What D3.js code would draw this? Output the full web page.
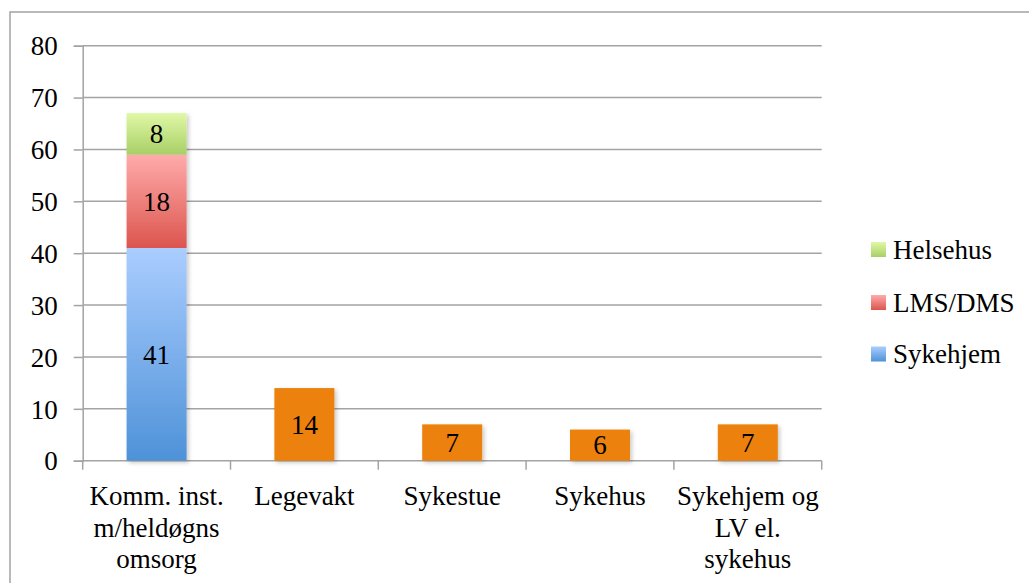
<!DOCTYPE html>
<html>
<head>
<meta charset="utf-8">
<script src="https://cdn.jsdelivr.net/npm/d3@7"></script>
<style>
  html, body { margin: 0; padding: 0; background: #fff; }
  svg { display: block; font-family: "Liberation Serif", serif; }
</style>
</head>
<body>
<svg id="chart" width="1029" height="583"></svg>
<script>
// Categories, shown as multi-line tick labels
const categories = ["komm", "legevakt", "sykestue", "sykehus", "sykehjemLv"];
const categoryLines = [
  ["Komm. inst.", "m/heldøgns", "omsorg"],
  ["Legevakt"],
  ["Sykestue"],
  ["Sykehus"],
  ["Sykehjem og", "LV el.", "sykehus"]
];

// Series values per category
const sykehjem = [41, 0, 0, 0, 0];
const lmsDms   = [18, 0, 0, 0, 0];
const helsehus = [8, 0, 0, 0, 0];
const annet    = [0, 14, 7, 6, 7];

const seriesKeys = ["sykehjem", "lmsDms", "helsehus", "annet"];
const seriesNames = { sykehjem: "Sykehjem", lmsDms: "LMS/DMS", helsehus: "Helsehus" };
const legendKeys = ["helsehus", "lmsDms", "sykehjem"];

const yTicks = [0, 10, 20, 30, 40, 50, 60, 70, 80];

const rows = categories.map((c, i) => ({
  cat: c,
  sykehjem: sykehjem[i],
  lmsDms: lmsDms[i],
  helsehus: helsehus[i],
  annet: annet[i]
}));

const svg = d3.select("#chart");
const fontFamily = "Liberation Serif";
const fontSize = 27;
const gridColor = "#a3a3a3";

// gradients and shadow
const defs = svg.append("defs");
const gradStops = {
  sykehjem: ["#aacdff", "#4e92d8"],
  lmsDms:   ["#ffabab", "#dc554d"],
  helsehus: ["#e0f8a6", "#a8cf66"]
};
Object.entries(gradStops).forEach(([k, [top, bottom]]) => {
  const g = defs.append("linearGradient")
    .attr("id", "grad-" + k).attr("x1", 0).attr("y1", 0).attr("x2", 0).attr("y2", 1);
  g.append("stop").attr("offset", "0%").attr("stop-color", top);
  g.append("stop").attr("offset", "100%").attr("stop-color", bottom);
});
const fill = k => k === "annet" ? "#ec8109" : `url(#grad-${k})`;

const shadow = defs.append("filter").attr("id", "shadow")
  .attr("x", "-20%").attr("y", "-20%").attr("width", "140%").attr("height", "140%");
shadow.append("feDropShadow").attr("dx", 2).attr("dy", 2)
  .attr("stdDeviation", 2).attr("flood-color", "#000").attr("flood-opacity", 0.22);

// outer frame
svg.append("rect")
  .attr("x", 10).attr("y", 12).attr("width", 1040).attr("height", 600)
  .attr("fill", "none").attr("stroke", gridColor).attr("stroke-width", 1.5);

const x = d3.scaleBand()
  .domain(categories)
  .range([82.7, 821.7])
  .paddingInner(0.594)
  .paddingOuter(0.297);

const y = d3.scaleLinear().domain([0, 80]).range([460.7, 45.7]);

// horizontal gridlines
svg.append("g")
  .selectAll("line")
  .data(yTicks.filter(t => t > 0))
  .join("line")
  .attr("x1", x.range()[0]).attr("x2", x.range()[1])
  .attr("y1", d => y(d)).attr("y2", d => y(d))
  .attr("stroke", gridColor).attr("stroke-width", 1.5);

// y axis
const yAxis = svg.append("g")
  .attr("transform", `translate(${x.range()[0]},0)`)
  .call(d3.axisLeft(y).tickValues(yTicks).tickSize(9).tickPadding(16).tickFormat(d3.format("d")));
yAxis.select(".domain").attr("stroke", gridColor).attr("stroke-width", 1.5);
yAxis.selectAll(".tick line").attr("stroke", gridColor).attr("stroke-width", 1.5);
yAxis.selectAll(".tick text")
  .attr("font-family", fontFamily).attr("font-size", fontSize).attr("fill", "#000")
  .attr("dy", "0.34em");

// x axis
const step = x.step();
const xAxis = svg.append("g").attr("transform", `translate(0,${y(0)})`);
xAxis.append("line")
  .attr("x1", x.range()[0]).attr("x2", x.range()[1])
  .attr("y1", 0).attr("y2", 0)
  .attr("stroke", gridColor).attr("stroke-width", 1.5);
const boundaries = d3.range(categories.length + 1).map(i => x.range()[0] + i * step);
xAxis.selectAll("line.tk")
  .data(boundaries)
  .join("line").attr("class", "tk")
  .attr("x1", d => d).attr("x2", d => d)
  .attr("y1", 0).attr("y2", 9)
  .attr("stroke", gridColor).attr("stroke-width", 1.5);

const labelG = xAxis.selectAll("text.cat")
  .data(categories)
  .join("text").attr("class", "cat")
  .attr("font-family", fontFamily)
  .attr("font-size", fontSize).attr("fill", "#000")
  .attr("text-anchor", "middle")
  .attr("x", d => x(d) + x.bandwidth() / 2)
  .attr("y", 44.3);
labelG.each(function(d, i) {
  d3.select(this).selectAll("tspan")
    .data(categoryLines[i])
    .join("tspan")
    .attr("x", x(d) + x.bandwidth() / 2)
    .attr("dy", (l, j) => j === 0 ? 0 : 31.7)
    .text(l => l);
});

// stacked bars
const stack = d3.stack().keys(seriesKeys);
const stacked = stack(rows);

const segs = [];
stacked.forEach(s => {
  s.forEach(d => {
    const v = d[1] - d[0];
    if (v > 0) segs.push({ key: s.key, cat: d.data.cat, y0: d[0], y1: d[1], v });
  });
});

svg.append("g").attr("filter", "url(#shadow)")
  .selectAll("rect")
  .data(segs)
  .join("rect")
  .attr("x", d => x(d.cat))
  .attr("width", x.bandwidth())
  .attr("y", d => y(d.y1))
  .attr("height", d => y(d.y0) - y(d.y1))
  .attr("fill", d => fill(d.key));

// value labels
svg.append("g")
  .selectAll("text")
  .data(segs)
  .join("text")
  .attr("font-family", fontFamily)
  .attr("font-size", fontSize).attr("fill", "#000")
  .attr("text-anchor", "middle")
  .attr("x", d => x(d.cat) + x.bandwidth() / 2)
  .attr("y", d => (y(d.y0) + y(d.y1)) / 2)
  .attr("dy", "0.34em")
  .text(d => d.v);

// legend
const legend = svg.append("g");
const legendY = [249.5, 302.5, 354];
legendKeys.forEach((k, i) => {
  const g = legend.append("g").attr("transform", `translate(871,${legendY[i]})`);
  g.append("rect").attr("x", 0).attr("y", -7.5).attr("width", 15).attr("height", 15)
    .attr("fill", fill(k));
  g.append("text").attr("x", 22).attr("y", 0).attr("dy", "0.34em")
    .attr("font-family", fontFamily)
    .attr("font-size", fontSize).attr("fill", "#000")
    .text(seriesNames[k]);
});
</script>
</body>
</html>
